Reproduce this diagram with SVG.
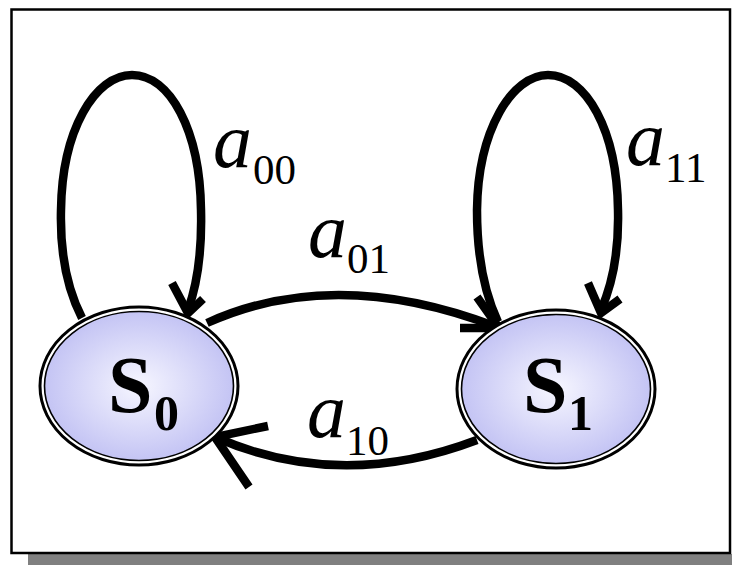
<svg xmlns="http://www.w3.org/2000/svg" width="732" height="565" viewBox="0 0 732 565">
<defs>
<radialGradient id="g" cx="50%" cy="50%" r="50%">
<stop offset="0%" stop-color="#f6f6ff"/>
<stop offset="100%" stop-color="#c4c4f4"/>
</radialGradient>
<style>
.edge{fill:none;stroke:#000;stroke-width:8.5;stroke-linecap:butt;stroke-linejoin:miter}
.outer{fill:#fff;stroke:#000;stroke-width:3}
.inner{fill:url(#g);stroke:#000;stroke-width:1.6}
.st{font-family:"Liberation Serif","Times New Roman",serif;font-weight:bold;fill:#000}
.lb{font-family:"Liberation Serif","Times New Roman",serif;fill:#000}
.a{font-style:italic;font-size:78px}
.sub{font-size:43px}
</style>
</defs>
<rect x="28" y="554" width="704" height="11" fill="#808080"/>
<rect x="11.5" y="9.5" width="718.5" height="543.5" fill="#fff" stroke="#000" stroke-width="2.5"/>
<g id="connectors">
<g id="loop00">
<path class="edge" d="M82,318 C65,285 60,250 61,210 C62,130 95,75 132,75 C170,75 200,130 201,210 C202,250 197,285 188,310"/>
<path class="edge" d="M172,283 L188,313 L203,299"/>
</g>
<g id="loop11">
<path class="edge" d="M498,322 C482,288 477,250 477,210 C478,130 512,75 548,75 C586,75 617,130 618,210 C619,250 612,285 601,310"/>
<path class="edge" d="M588,283 L601,313 L620,299"/>
</g>
<g id="e01">
<path class="edge" d="M207,323 Q335,265 497,327"/>
<path class="edge" d="M477,297 L499,328 L460,328"/>
</g>
<g id="e10">
<path class="edge" d="M477,440 Q340,492 215,437"/>
<path class="edge" d="M268,426 L215,437 L249,487"/>
</g>
</g>
<g id="S0">
<ellipse class="outer" cx="139" cy="386" rx="99" ry="79"/>
<ellipse class="inner" cx="139" cy="386" rx="94.5" ry="74.5"/>
<text class="st" x="108" y="412" font-size="80">S</text>
<text class="st" x="154" y="430" font-size="50">0</text>
</g>
<g id="S1">
<ellipse class="outer" cx="556" cy="389" rx="99" ry="79"/>
<ellipse class="inner" cx="556" cy="389" rx="94.5" ry="74.5"/>
<text class="st" x="523" y="412" font-size="80">S</text>
<text class="st" x="568" y="430" font-size="50">1</text>
</g>
<g id="labels">
<text class="lb"><tspan class="a" x="213" y="167">a</tspan><tspan class="sub" x="253" y="184">00</tspan></text>
<text class="lb"><tspan class="a" x="626" y="165">a</tspan><tspan class="sub" x="665" y="182">11</tspan></text>
<text class="lb"><tspan class="a" x="308" y="257">a</tspan><tspan class="sub" x="347" y="273">01</tspan></text>
<text class="lb"><tspan class="a" x="307" y="437">a</tspan><tspan class="sub" x="346" y="455">10</tspan></text>
</g>
</svg>
